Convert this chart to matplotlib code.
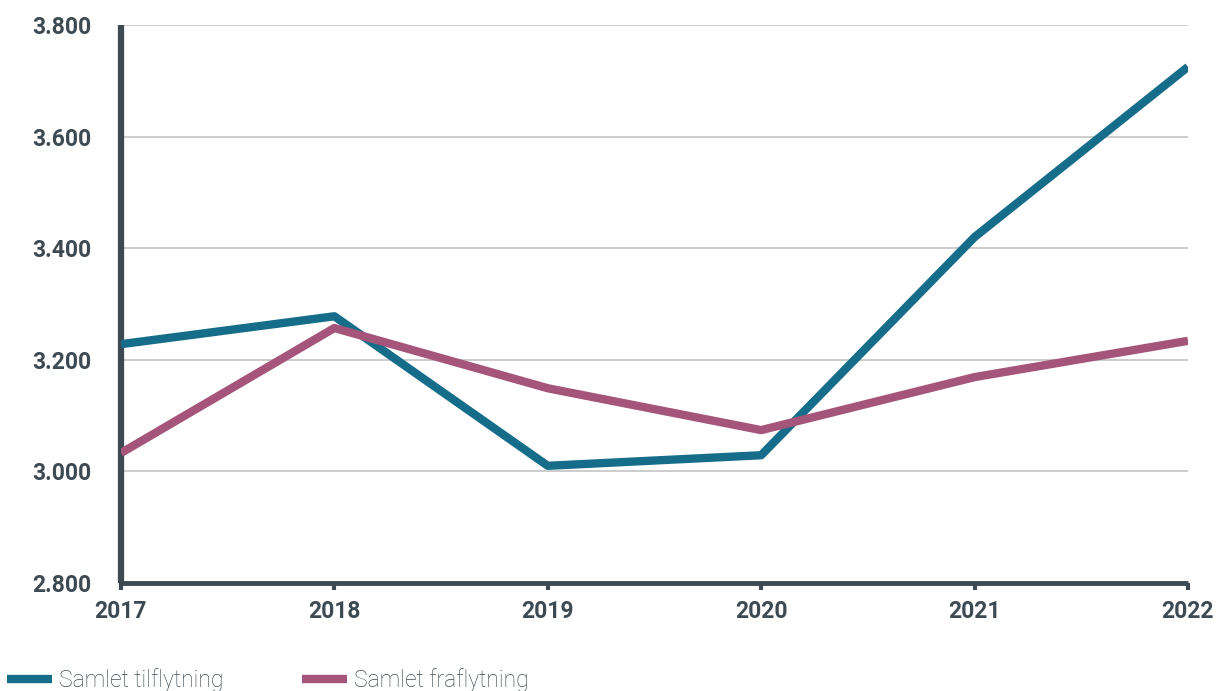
import numpy as np
import matplotlib.pyplot as plt

# Data
years = [2017, 2018, 2019, 2020, 2021, 2022]
tilflytning = [3228, 3278, 3010, 3029, 3420, 3725]
fraflytning = [3033, 3257, 3149, 3074, 3169, 3234]
yticks = [2800, 3000, 3200, 3400, 3600, 3800]

axis_col = '#3d4a52'
blue = '#156d8a'
mauve = '#a5547a'

plt.rcParams['font.family'] = ['Roboto', 'DejaVu Sans']

fig = plt.figure(figsize=(12.17, 6.91), dpi=100)
ax = fig.add_axes([121 / 1217, 1 - 583 / 691, (1188 - 121) / 1217, (583 - 25) / 691])

ax.plot(years, tilflytning, color=blue, lw=6, solid_capstyle='butt',
        label='Samlet tilflytning', zorder=3)
ax.plot(years, fraflytning, color=mauve, lw=6, solid_capstyle='butt',
        label='Samlet fraflytning', zorder=3)

ax.set_xlim(2017, 2022)
ax.set_ylim(2800, 3800)
ax.set_xticks(years)
ax.set_yticks(yticks)
ax.set_yticklabels([f'{v:,}'.replace(',', '.') for v in yticks])

ax.grid(axis='y', color='#c8c8c8', lw=1.3)
ax.set_axisbelow(True)

for s in ['top', 'right']:
    ax.spines[s].set_visible(False)
ax.spines['left'].set_color(axis_col)
ax.spines['left'].set_linewidth(4.5)
ax.spines['left'].set_capstyle('butt')
ax.spines['bottom'].set_color(axis_col)
ax.spines['bottom'].set_linewidth(3.5)
ax.spines['bottom'].set_capstyle('butt')

ax.tick_params(axis='y', length=0, pad=21, labelsize=16.5, labelcolor=axis_col)
ax.tick_params(axis='x', length=5, width=3, color=axis_col, pad=7,
               labelsize=16.5, labelcolor=axis_col)
for lab in ax.get_xticklabels() + ax.get_yticklabels():
    lab.set_fontweight('bold')

leg = fig.legend(loc='center left', bbox_to_anchor=(7 / 1217, 1 - 680 / 691), ncol=2,
                 frameon=False, fontsize=16.5, handlelength=1.96, handletextpad=0.3,
                 columnspacing=3.45, borderpad=0, borderaxespad=0)
for t in leg.get_texts():
    t.set_color(axis_col)
    t.set_fontweight('light')
for h in leg.get_lines():
    h.set_linewidth(6)
    h.set_solid_capstyle('butt')

fig.savefig('out.png', dpi=100)
